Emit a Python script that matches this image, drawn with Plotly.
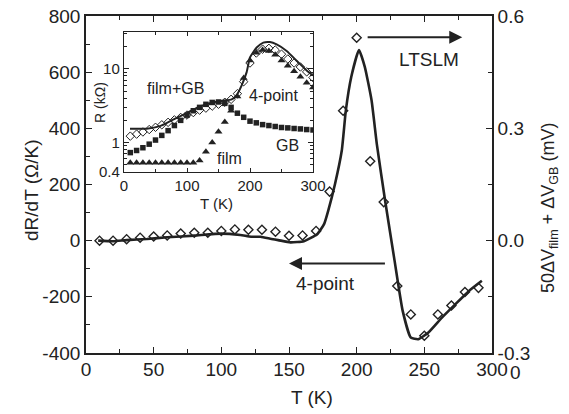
import plotly.graph_objects as go

# ---------------- main panel data ----------------
T_line = [9, 20, 30, 45, 60, 80, 100, 114, 122, 129, 137, 142, 151, 161, 171, 176, 179, 184,
          189, 192, 196, 201.7, 206, 211, 215, 221, 228, 234, 240, 245.5, 253, 263, 273, 283, 292.5]
dRdT = [0, -2, 2, 6, 12, 18, 25, 20, 14, 14, 6, 2, -6, -2, 24, 60, 107, 202,
        321, 464, 583, 679, 619, 500, 340, 143, -71, -250, -345, -351, -327, -274, -226, -179, -143]

T_pts = [10, 20, 30, 40, 50, 60, 70, 80, 90, 100, 110, 120, 130, 140, 150, 160, 170, 180,
         190, 200, 210, 220, 230, 240, 250, 260, 270, 280, 290]
V_pts = [0.000, 0.000, 0.004, 0.008, 0.011, 0.014, 0.019, 0.021, 0.021, 0.026, 0.030, 0.029,
         0.029, 0.024, 0.013, 0.014, 0.026, 0.131, 0.347, 0.542, 0.212, 0.103, -0.121, -0.197,
         -0.254, -0.197, -0.173, -0.137, -0.126]

left_ticks = [-400, -200, 0, 200, 400, 600, 800]
left_labels = ["-400", "-200", "0", "200", "400", "600", "800"]
right_ticks = [-0.3, 0.0, 0.3, 0.6]
right_labels = ["-0.3", "0.0", "0.3", "0.6"]

# ---------------- inset data ----------------
T_in_line = [9.5, 36, 57, 78, 99.5, 120.6, 141.7, 157.6, 170.9, 178.8, 186.8, 194.7, 200,
             210.6, 221.1, 231.7, 242.3, 258.2, 274, 290, 300]
R_4pt = [1.54, 1.54, 1.67, 2.05, 2.51, 3.08, 3.52, 3.71, 3.86, 4.41, 5.98, 9.03, 14.3,
         19.5, 22.7, 23.1, 21.5, 17.5, 12.9, 9.5, 8.1]

T_in = [10, 20, 30, 40, 50, 60, 70, 80, 90, 100, 110, 120, 130, 140, 150, 160, 170, 180,
        190, 200, 210, 220, 230, 240, 250, 260, 270, 280, 290, 300]
R_filmGB = [1.22, 1.30, 1.39, 1.50, 1.61, 1.74, 1.88, 2.03, 2.19, 2.36, 2.55, 2.75, 2.93, 3.12,
            3.31, 3.52, 3.86, 4.6, 6.7, 12, 16.4, 18.5, 19, 18, 15.8, 13.6, 12, 10.6, 9.1, 7.6]
R_GB = [0.73, 0.78, 0.85, 0.95, 1.08, 1.25, 1.45, 1.7, 2.0, 2.35, 2.7, 3.0, 3.3, 3.5, 3.55,
        3.4, 3.0, 2.5, 2.2, 1.95, 1.85, 1.75, 1.7, 1.65, 1.6, 1.58, 1.55, 1.53, 1.5, 1.48]
R_film = [0.53, 0.53, 0.53, 0.53, 0.53, 0.53, 0.53, 0.53, 0.53, 0.53, 0.53, 0.57, 0.75, 1.0,
          1.4, 1.9, 2.7, 4.2, 7.5, 13, 16.5, 18, 17.5, 15.5, 13, 11, 9.3, 7.8, 6.5, 5.6]

INK = "#222222"
FONT = "Liberation Sans, Arial, sans-serif"

W_FIG, H_FIG = 569, 414
ML, MR, MT, MB = 86, 77, 16, 61
PW, PH = W_FIG - ML - MR, H_FIG - MT - MB


def pp(xp, yp):
    """pixel -> paper coordinates"""
    return (xp - ML) / PW, (H_FIG - MB - yp) / PH


fig = go.Figure()

# main
fig.add_trace(go.Scatter(x=T_line, y=dRdT, mode="lines",
                         line=dict(color=INK, width=2.6, shape="spline", smoothing=0.45),
                         xaxis="x", yaxis="y", showlegend=False))
fig.add_trace(go.Scatter(x=T_pts, y=V_pts, mode="markers",
                         marker=dict(symbol="diamond-open", size=7, color=INK, line=dict(width=1.4)),
                         xaxis="x", yaxis="y3", showlegend=False))

# inset
fig.add_trace(go.Scatter(x=T_in_line, y=R_4pt, mode="lines",
                         line=dict(color=INK, width=2, shape="spline", smoothing=0.5),
                         xaxis="x2", yaxis="y2", showlegend=False))
fig.add_trace(go.Scatter(x=T_in, y=R_filmGB, mode="markers",
                         marker=dict(symbol="diamond-open", size=6.5, color=INK, line=dict(width=1)),
                         xaxis="x2", yaxis="y2", showlegend=False))
fig.add_trace(go.Scatter(x=T_in, y=R_GB, mode="markers",
                         marker=dict(symbol="square", size=5.5, color=INK),
                         xaxis="x2", yaxis="y2", showlegend=False))
fig.add_trace(go.Scatter(x=T_in, y=R_film, mode="markers",
                         marker=dict(symbol="triangle-up", size=7, color=INK),
                         xaxis="x2", yaxis="y2", showlegend=False))

ax_common = dict(showline=True, linecolor=INK, linewidth=1.6, ticks="inside", tickcolor=INK,
                 tickwidth=1.4, showgrid=False, zeroline=False, automargin=False,
                 tickfont=dict(family=FONT, size=19, color=INK))

ix0, iy0 = pp(124, 172)
ix1, iy1 = pp(313, 32)

fig.update_layout(
    width=W_FIG, height=H_FIG,
    margin=dict(l=ML, r=MR, t=MT, b=MB, autoexpand=False),
    paper_bgcolor="white", plot_bgcolor="white",
    font=dict(family=FONT, color=INK),
    xaxis=dict(**ax_common, domain=[0, 1], anchor="y", range=[0, 300], dtick=50, ticklen=6,
               ticklabelstandoff=-2,
               mirror="ticks", minor=dict(dtick=25, ticks="inside", ticklen=4, tickcolor=INK)),
    yaxis=dict(**ax_common, domain=[0, 1], anchor="x", range=[-400, 800],
               tickvals=left_ticks, ticktext=left_labels, ticklen=6,
               minor=dict(dtick=100, ticks="inside", ticklen=4, tickcolor=INK)),
    yaxis3=dict(**ax_common, overlaying="y", side="right", anchor="x", range=[-0.3, 0.6],
                tickvals=right_ticks, ticktext=right_labels, ticklen=6,
                minor=dict(tickvals=[-0.15, 0.15, 0.45], ticks="inside", ticklen=4, tickcolor=INK)),
    xaxis2=dict(showline=True, linecolor=INK, linewidth=1.4, ticks="inside", tickcolor=INK, tickwidth=1,
                showgrid=False, zeroline=False, tickfont=dict(family=FONT, size=15, color=INK),
                domain=[ix0, ix1], anchor="y2", range=[0, 300], tickvals=[0, 100, 200, 300], ticklen=4,
                mirror="ticks", minor=dict(tickvals=[50, 150, 250], ticks="inside", ticklen=3, tickcolor=INK)),
    yaxis2=dict(showline=True, linecolor=INK, linewidth=1.4, ticks="inside", tickcolor=INK, tickwidth=1,
                showgrid=False, zeroline=False, tickfont=dict(family=FONT, size=15, color=INK),
                domain=[iy0, iy1], anchor="x2", type="log", range=[-0.4, 1.5],
                tickvals=[0.4, 1, 10], ticktext=["0.4", "1", "10"], ticklen=5, mirror="ticks",
                minor=dict(tickvals=[0.5, 0.6, 0.7, 0.8, 0.9, 2, 3, 4, 5, 6, 7, 8, 9, 20, 30],
                           ticks="inside", ticklen=3, tickcolor=INK)),
)

ann = []


def txt(text, xp, yp, size, angle=0):
    x, y = pp(xp, yp)
    ann.append(dict(text=text, x=x, y=y, xref="paper", yref="paper", showarrow=False,
                    textangle=angle, xanchor="center", yanchor="middle",
                    font=dict(family=FONT, size=size, color=INK)))


# axis titles
txt("T (K)", 312, 397, 19)
txt("dR/dT (Ω/K)", 31, 190, 19, -90)
txt("50ΔV<sub>film</sub> + ΔV<sub>GB</sub> (mV)", 549, 208, 18, -90)
txt("0", 515, 372, 19)
# main labels
txt("LTSLM", 429, 60, 19)
txt("4-point", 325, 283, 19)
# inset labels
txt("film+GB", 175, 88, 16)
txt("4-point", 273, 95, 16)
txt("GB", 287, 145, 16)
txt("film", 229, 158, 16)
txt("R (kΩ)", 100, 103, 14, -90)
txt("T (K)", 216, 204, 15)

# arrows
ann.append(dict(x=278, y=724, ax=207, ay=724, xref="x", yref="y", axref="x", ayref="y",
                text="", showarrow=True, arrowhead=2, arrowsize=1.3, arrowwidth=2, arrowcolor=INK))
ann.append(dict(x=150, y=-81, ax=222, ay=-81, xref="x", yref="y", axref="x", ayref="y",
                text="", showarrow=True, arrowhead=2, arrowsize=1.3, arrowwidth=2, arrowcolor=INK))

fig.update_layout(annotations=ann)

fig.write_html("out.html", config={"displayModeBar": False},
               post_script="document.body.style.margin='0';")
